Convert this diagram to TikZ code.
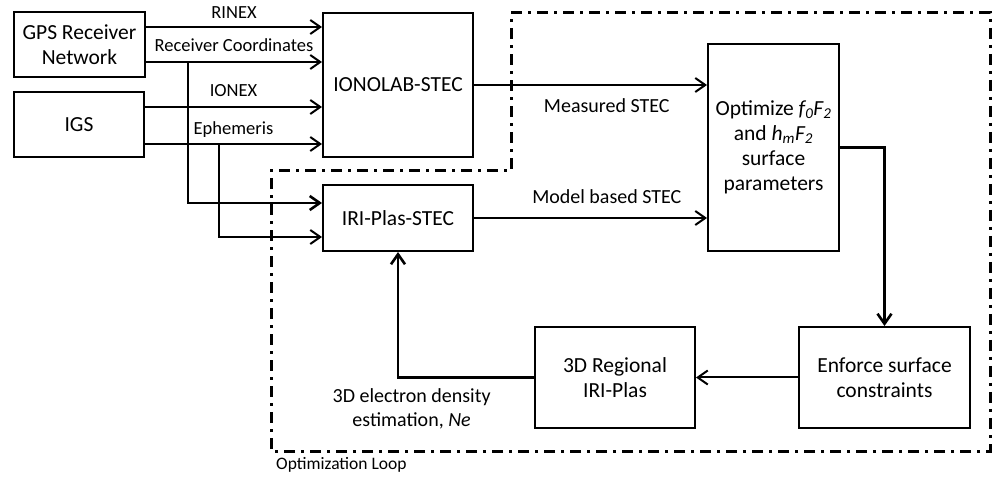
\documentclass[tikz,border=0pt]{standalone}
\usepackage{fontspec}
\setmainfont{Carlito}
\usetikzlibrary{arrows.meta}

\tikzset{
  box/.style={draw, line width=2pt, inner sep=0pt, align=center, font=\fontsize{21.5}{25}\selectfont},
  lbl/.style={font=\fontsize{18.5}{22}\selectfont, inner sep=0pt, text depth=0pt},
  midlbl/.style={font=\fontsize{20}{24}\selectfont, inner sep=0pt, align=center},
  arr/.style={line width=2pt, -{Straight Barb[length=10pt,width=14pt]}},
  looprule/.style={line width=3pt, dash pattern=on 11pt off 6pt on 3pt off 6pt},
}

\begin{document}
\begin{tikzpicture}[x=1pt,y=-1pt]
\useasboundingbox (0,0) rectangle (994,478);

\node[box, minimum width=131pt, minimum height=65pt] (gps) at (79.5,44.5) {GPS Receiver\\Network};
\node[box, minimum width=130pt, minimum height=65pt] (igs) at (79,124.5) {IGS};
\node[box, minimum width=150pt, minimum height=144pt] (ionolab) at (398,85) {IONOLAB-STEC};
\node[box, minimum width=150pt, minimum height=66pt] (iristec) at (398,218) {IRI-Plas-STEC};
\node[box, minimum width=131pt, minimum height=207pt] (optim) at (773.5,147.5)
  {Optimize \textit{f\textsubscript{0}F\textsubscript{2}}\\and \textit{h\textsubscript{m}F\textsubscript{2}}\\surface\\parameters};
\node[box, minimum width=171pt, minimum height=101pt] (enforce) at (884.5,377.5) {Enforce surface\\constraints};
\node[box, minimum width=160pt, minimum height=101pt] (regional) at (615,377.5) {3D Regional\\IRI-Plas};

\draw[looprule] (511,13) -- (990,13) -- (990,451) -- (271,451) -- (271,171) -- (511,171) -- cycle;
\node[font=\fontsize{17.5}{21}\selectfont, anchor=north west, inner sep=0pt] (looplabel) at (276,457) {Optimization Loop};

\coordinate (rinex) at ([yshift=17.5pt]gps.east);
\coordinate (rcoord) at ([yshift=-17.5pt]gps.east);
\coordinate (ionex) at ([yshift=17.5pt]igs.east);
\coordinate (ephem) at ([yshift=-19.5pt]igs.east);
\coordinate (rbranch) at (188,62);
\coordinate (ebranch) at (219,144);

\draw[arr] (rinex) -- node[lbl, above=7pt] {RINEX} (rinex -| ionolab.west);
\draw[arr] (rcoord) -- node[lbl, above=9pt] {Receiver Coordinates} (rcoord -| ionolab.west);
\draw[arr] (ionex) -- node[lbl, above=9pt] {IONEX} (ionex -| ionolab.west);
\draw[arr] (ephem) -- node[lbl, above=8pt] {Ephemeris} (ephem -| ionolab.west);
\draw[arr, line width=2.6pt] (rbranch) |- ([yshift=15pt]iristec.west);
\draw[arr] (ebranch) |- ([yshift=-19pt]iristec.west);

\draw[arr] (ionolab.east) -- node[midlbl, pos=0.57, below=13pt] {Measured STEC} (ionolab.east -| optim.west);
\draw[arr] (iristec.east) -- node[midlbl, pos=0.57, above=13pt] {Model based STEC} (iristec.east -| optim.west);
\draw[arr, line width=2.6pt] (optim.east) -| (enforce.north);
\draw[arr] (enforce.west) -- (regional.east);
\draw[arr, line width=2.6pt] (regional.west) -| node[midlbl, pos=0.45, below=10pt] {3D electron density\\estimation, \textit{Ne}} (iristec.south);
\end{tikzpicture}
\end{document}
